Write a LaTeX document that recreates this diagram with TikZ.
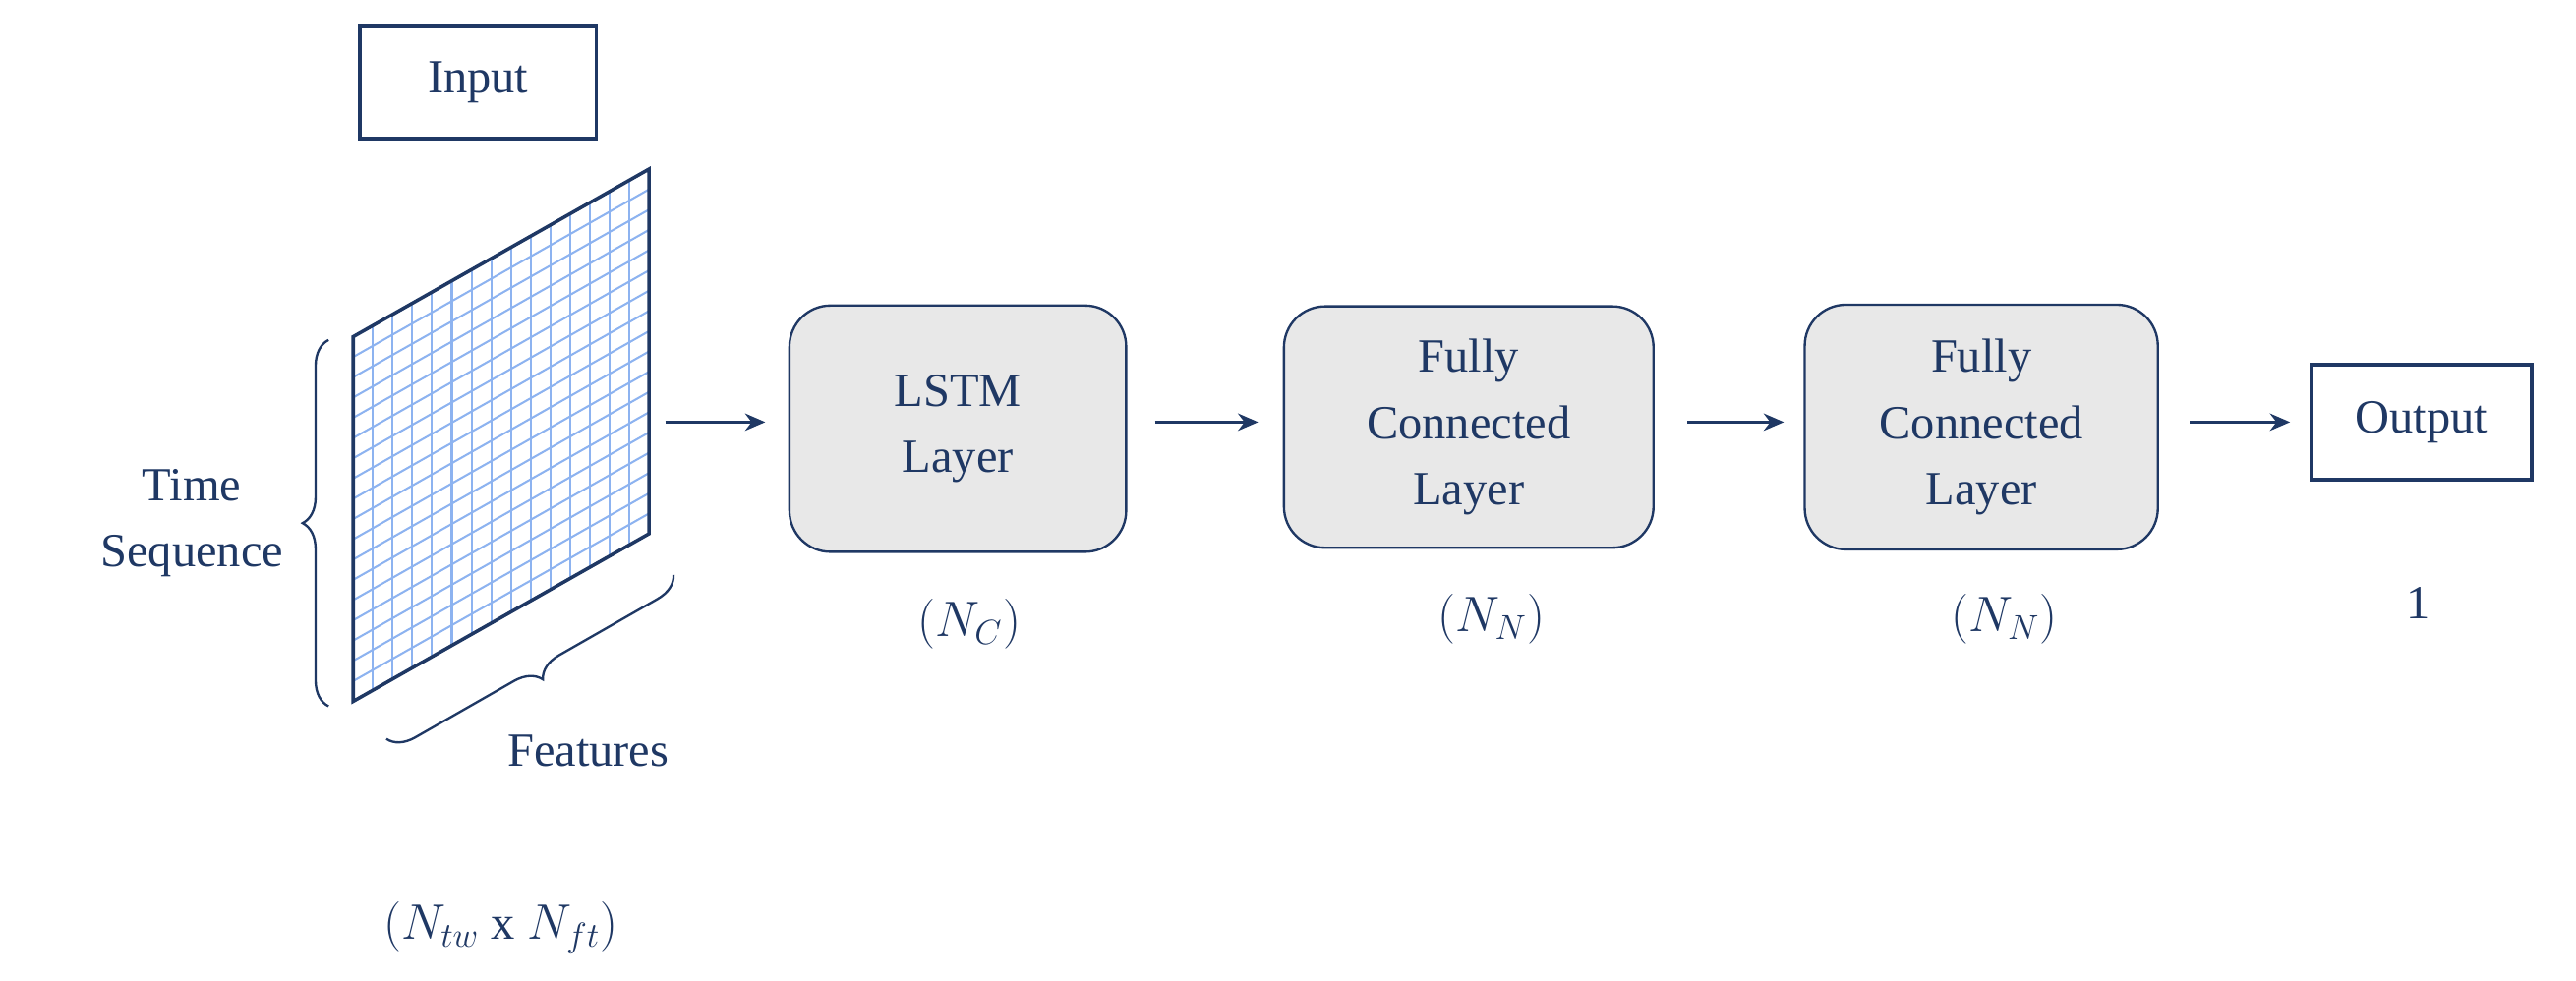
\documentclass[tikz,border=0pt]{standalone}
\usepackage{fontspec}
\setmainfont{Liberation Serif}
\usetikzlibrary{arrows.meta,decorations.pathreplacing}
\definecolor{navy}{HTML}{1F3864}
\definecolor{gridblue}{HTML}{8DB3F0}
\definecolor{boxgray}{HTML}{E8E8E8}
\begin{document}
\begin{tikzpicture}[x={(0.02cm,0)},y={(0,-0.02cm)},
  txt/.style={text=navy,font=\fontsize{16.5}{23}\selectfont,align=center},
  layer/.style={txt,draw=navy,fill=boxgray,rounded corners=0.5cm,line width=0.8pt},
  plain/.style={txt,draw=navy,line width=1.2pt},
  arr/.style={draw=navy,line width=1pt,-{Stealth[length=7pt,width=6pt]}},
  brace/.style={draw=navy,line width=0.8pt,decorate,decoration={brace,amplitude=9pt}}]
\useasboundingbox (0,0) rectangle (1568,597);
% grid
\foreach \i in {0,...,15}{
  \draw[gridblue,line width=0.7pt] ({215+12*\i},{427-6.8*\i}) -- ({215+12*\i},{205-6.8*\i});}
\foreach \j in {0,...,18}{
  \draw[gridblue,line width=0.7pt] (215,{427-12.333*\j}) -- (395,{325-12.333*\j});}
\draw[navy,line width=1.2pt] (215,427) -- (215,205) -- (395,103) -- (395,325) -- cycle;
\node[plain,minimum width=2.88cm,minimum height=1.38cm] (in) at (291,50) {Input};
\coordinate (g) at (405,257);
\node[layer,minimum width=4.1cm,minimum height=3cm] (lstm) at (583,261) {LSTM\\Layer};
\node[layer,minimum width=4.5cm,minimum height=2.94cm] (fc1) at (894,260) {Fully\\Connected\\Layer};
\node[layer,minimum width=4.3cm,minimum height=2.98cm] (fc2) at (1206,260) {Fully\\Connected\\Layer};
\node[plain,minimum width=2.68cm,minimum height=1.4cm] (out) at (1474,257) {Output};
\coordinate (a2) at (703,257);
\coordinate (a3) at (1027,257);
\coordinate (a4) at (1333,257);
\draw[arr] (g) -- ([xshift=-0.28cm]g -| lstm.west);
\draw[arr] (a2) -- ([xshift=-0.3cm]a2 -| fc1.west);
\draw[arr] (a3) -- ([xshift=-0.24cm]a3 -| fc2.west);
\draw[arr] (a4) -- ([xshift=-0.24cm]a4 -| out.west);
\draw[brace] (200,430) -- (200,207) node[midway,left=12pt,txt] (ts) {Time\\Sequence};
\draw[brace] (410,350) -- (235,450);
\node[txt] (feat) at (358,457) {Features};
\node[txt] (nc) at (590,380) {$(N_C)$};
\node[txt] (nn1) at (908,377) {$(N_N)$};
\node[txt] (nn2) at (1220,377) {$(N_N)$};
\node[txt] (one) at (1472,367) {1};
\node[txt] (nin) at (305,565) {$(N_{tw}\ \mathrm{x}\ N_{ft})$};
\end{tikzpicture}
\end{document}
